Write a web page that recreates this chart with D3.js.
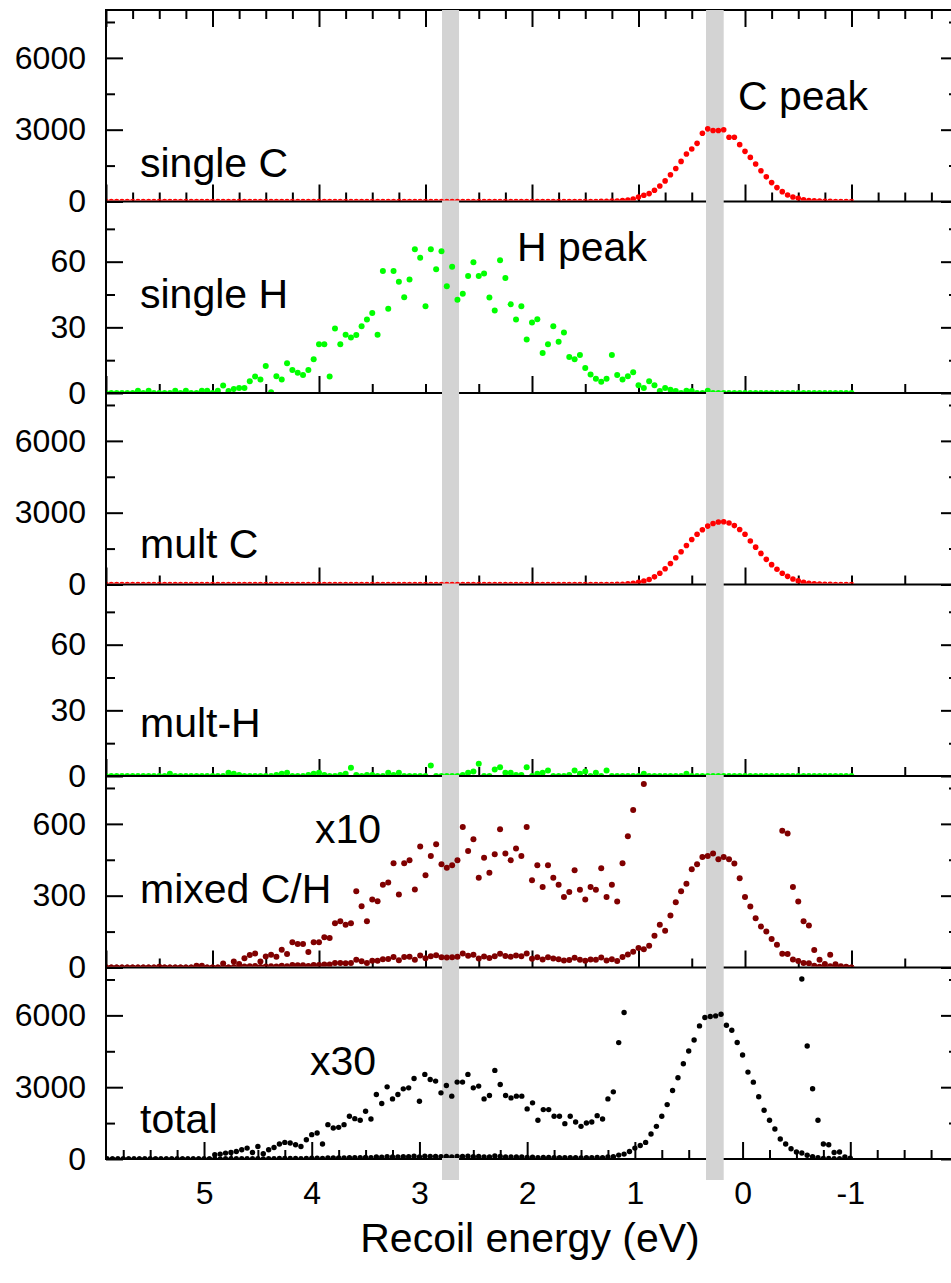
<!DOCTYPE html>
<html>
<head>
<meta charset="utf-8">
<script src="https://cdn.jsdelivr.net/npm/d3@7"></script>
<style>
  html, body { margin: 0; padding: 0; background: #fff; }
  svg { display: block; }
  text { font-family: "Liberation Sans", Arial, Helvetica, sans-serif; fill: #000; }
</style>
</head>
<body>
<svg id="chart" width="951" height="1283"></svg>
<script>
// Energy grid of the recoil spectra (eV), from 6.00 down to -1.00 in 0.05 eV steps
const energyStart = 6.0;
const energyStep = 0.05;
const energyCount = 141;

// Counts per energy bin, one row = 20 bins (6.00 ... 5.05, 5.00 ... 4.05, ...)
const singleC = [
  0,0,0,0,0,0,0,0,0,0,0,0,0,0,0,0,0,0,0,0,
  0,0,0,0,0,0,0,0,0,0,0,0,0,0,0,0,0,0,0,0,
  0,0,0,0,0,0,0,0,0,0,0,0,0,0,0,0,0,0,0,0,
  0,0,0,0,0,0,0,0,0,0,0,0,0,0,0,0,0,0,0,0,
  0,0,0,0,0,0,0,0,0,0,0,0,0,5,10,15,20,40,60,105,
  190,260,330,470,650,860,1115,1380,1675,1985,2195,2430,2852,3035,2965,2965,2995,2685,2685,2375,
  2095,1843,1565,1283,1030,790,580,412,273,190,135,76,40,25,15,10,5,0,0,0,
  0
];

const singleH = [
  0,0,0,0,0,0,1,0,1,0,0,0,0,1,0,1,0,0,1,1,
  0,1,3.4,0.9,1.8,2.3,2.3,5.4,7.5,6.2,12.3,0.3,7.7,6.2,13.6,10.5,9.2,8.2,10.5,15.4,
  22.3,22.3,7.5,29.5,22.3,26.6,25.4,26.5,30.5,33.6,36.5,26.6,55.7,38.5,55.7,50.8,43.8,51.9,65.7,61.8,
  39.6,65.7,56.6,64.8,48.8,57.7,42.6,45.4,53.5,59.7,53.5,54.6,43.6,37.7,60.7,52.6,40.5,33.6,39.6,24.5,
  32.2,33.7,18.3,22.3,30.5,23.4,27.6,16.5,15.4,17.4,11.4,8.5,6.5,5.1,6.5,17.4,8.2,6.2,7.7,9.5,
  3.5,2.3,5.4,3.5,0.9,2.3,1.5,0.9,0,1,0.9,0,0,1,0,0,0,0,0,0,
  0,0,0,0,0,0,0,0,0,0,0,0,0,0,0,0,0,0,0,0,
  0
];

const multC = [
  0,0,0,0,0,0,0,0,0,0,0,0,0,0,0,0,0,0,0,0,
  0,0,0,0,0,0,0,0,0,0,0,0,0,0,0,0,0,0,0,0,
  0,0,0,0,0,0,0,0,0,0,0,0,0,0,0,0,0,0,0,0,
  0,0,0,0,0,0,0,0,0,0,0,0,0,0,0,0,0,0,0,0,
  0,0,0,0,0,0,0,0,0,0,0,0,0,0,0,0,5,10,25,50,
  90,140,210,320,470,660,880,1120,1370,1630,1880,2100,2290,2440,2550,2610,2620,2570,2460,2300,
  2100,1820,1560,1300,1050,830,640,470,340,230,150,95,55,30,15,8,4,0,0,0,
  0
];

const multH = [
  0,0,0,0,0,0,0,0,0,0,0,0,1,0,0,0,0,0,0,0,
  0,0,0,1.5,1,0.5,0,0,0,0,0,0,0.5,1,1.5,0,0,0,0.5,1,
  1.5,0.5,0,0,0.5,1,3.8,0.5,0,0.5,0.5,0,0,1.5,0.5,1.5,0,0,0,0,
  0,4.8,0,0,0,0,0,0.5,1.5,2,5.6,0,0,3,4,1.5,1.5,0.5,0.5,4,
  0,1,1.5,2.5,0,0,0,0.5,2.5,1,2,0,1.5,0,2.5,0,0,0,0,0,
  0,1,0,0,0,0,0,0,0,1,0,0,0,0,0,0,0,0,0,0,
  0,0,0,0,0,0,0,0,0,0,0,0,0,0,0,0,0,0,0,0,
  0
];

const mixedCH = [
  0,0,0,0,0,0,0,0,0,0,0.3,0,0,0,0,0,0,0.7,0.7,0,
  0,0,1.7,0,2.5,1.5,3.9,5.2,5.9,2.5,4.6,5.3,4.5,7.4,5.6,10.5,9.8,9.8,6.5,10.5,
  10.5,12.6,12.3,18.5,19.3,17.9,18.5,31.9,25.6,19.3,28.4,27.7,34.6,35.5,43.6,30.5,43.6,44.8,32.6,50.6,
  38.5,46.6,51.5,43.1,41.7,42.7,44.8,58.7,48.7,53.6,37.5,45.9,39.6,47.3,57.8,47.6,44.8,49.7,46.6,58.7,
  36.4,42.7,33.6,42.7,37.5,34.6,29.4,31.5,40.6,32.5,28.4,33.6,32.5,41.5,29.4,34.6,27.6,43.6,54.8,65.8,
  81,76.7,91,133,179,154,217,273,319,350,410,431,462,466,476,452,462,452,434,373,
  294,255,206,171,150,119,95,57.1,56,33.6,27.6,19.3,17.5,7.3,3.2,1.5,5.3,1.4,0.5,0.3,
  0
];

const total = [
  0,0,0,0,0,0,0,0,0,0,0,0,0,0,0,0,0,0,0,0,
  0,0,5.9,6.8,8.2,9.1,10.5,12.9,15.2,9.1,17.5,7.3,12.9,16.1,20.8,23.1,22.2,19.9,17.5,26.9,
  33.9,36.2,20.8,47.8,43.2,44.1,47.8,59.5,56.2,53.9,66.5,55.8,89.8,77.2,100.5,83.7,89.8,97.7,99.1,112.2,
  80.5,117.8,110.8,108.5,92.1,102.4,87.5,107.1,107.1,117.8,99.1,101.5,83.7,88.4,123.4,103.8,88.4,85.1,87.5,87.5,
  69.8,78.2,53.9,68.8,68.8,59.5,59.5,49.2,59.5,51.6,45.5,50.2,51.6,60.4,55.8,83.7,93.5,162.1,204,315,
  455,567,693,1043,1364,1783,2273,2861,3393,3980,4512,4973,5560,5910,5955,5980,6050,5590,5380,4864,
  4343,3630,3210,2598,2035,1616,1255,835,625,428,290,250.7,157.4,97.8,53.9,20.8,19.9,9.1,9.7,3,
  1
];

// Peak positions marked by the grey bands (eV)
const peakBands = [[0.20, 0.366], [2.685, 2.845]];

// Axis ticks
const countTicksLarge = [0, 3000, 6000];
const countMinorLarge = [1500, 4500, 7500];
const countTicksH = [0, 30, 60];
const countMinorH = [15, 45, 75];
const countTicksMixed = [0, 300, 600];
const countMinorMixed = [150, 450, 750];
const energyTickLabels = [5, 4, 3, 2, 1, 0, -1];

const colorC = "#ff0000";
const colorH = "#00ff00";
const colorMixed = "#800000";
const colorTotal = "#000000";

// ---------------------------------------------------------------------------
const energy = d3.range(energyCount).map(i => +(energyStart - i * energyStep).toFixed(2));

const plotLeft = 106, plotRight = 958, plotTop = 10, panelH = 191.5;
const svg = d3.select("#chart");

const xMain = d3.scaleLinear().domain([6, -2]).range([plotLeft, plotRight]);
const xTotal = d3.scaleLinear().domain([5.91, -2]).range([plotLeft, plotRight]);

const panels = [
  { series: [{ values: singleC, color: colorC, r: 2.8 }], yMax: 8000, yMajor: countTicksLarge, yMinor: countMinorLarge,
    xMajor: 1, xMinor: 0.25, topAxis: true, x: xMain,
    notes: [{ text: "single C", x: 140, y: 177 }, { text: "C peak", x: 738, y: 110 }] },
  { series: [{ values: singleH, color: colorH, r: 3 }], yMax: 87.5, yMajor: countTicksH, yMinor: countMinorH,
    xMajor: 2, xMinor: 0.5, x: xMain,
    notes: [{ text: "single H", x: 140, y: 308 }, { text: "H peak", x: 517, y: 261 }] },
  { series: [{ values: multC, color: colorC, r: 2.8 }], yMax: 8000, yMajor: countTicksLarge, yMinor: countMinorLarge,
    xMajor: 2, xMinor: 0.5, x: xMain,
    notes: [{ text: "mult C", x: 140, y: 558 }] },
  { series: [{ values: multH, color: colorH, r: 3 }], yMax: 87.5, yMajor: countTicksH, yMinor: countMinorH,
    xMajor: 2, xMinor: 0.5, x: xMain,
    notes: [{ text: "mult-H", x: 140, y: 737 }] },
  { series: [{ values: mixedCH, color: colorMixed, r: 3 }, { values: mixedCH, factor: 10, color: colorMixed, r: 3 }],
    yMax: 800, yMajor: countTicksMixed, yMinor: countMinorMixed, xMajor: 1, xMinor: 0.5, x: xMain,
    notes: [{ text: "mixed C/H", x: 140, y: 903 }, { text: "x10", x: 315, y: 843 }] },
  { series: [{ values: total, color: colorTotal, r: 2.7 }, { values: total, factor: 30, color: colorTotal, r: 2.7 }],
    yMax: 8000, yMajor: countTicksLarge, yMinor: countMinorLarge, xMajor: 1, xMinor: 0.25, x: xTotal, labels: true,
    notes: [{ text: "total", x: 140, y: 1133 }, { text: "x30", x: 310, y: 1075 }] }
];

function stepTicks(scale, step) {
  const [a, b] = scale.domain();
  const lo = Math.min(a, b), hi = Math.max(a, b);
  const out = [];
  for (let k = Math.ceil(lo / step - 1e-9); k * step <= hi + 1e-9; k++) out.push(+(k * step).toFixed(4));
  return out;
}

function styleAxis(g) {
  g.select(".domain").remove();
  g.selectAll("line").attr("stroke", "#000").attr("stroke-width", 2);
  g.selectAll("text").attr("font-size", 32).attr("font-family", '"Liberation Sans", Arial, sans-serif').attr("fill", "#000");
  g.attr("font-family", null).attr("font-size", null);
}

const axisLayer = svg.append("g");
const bandLayer = svg.append("g");
const dataLayer = svg.append("g");
const textLayer = svg.append("g");

panels.forEach((p, i) => {
  const top = plotTop + i * panelH;
  const bottom = top + panelH;
  const x = p.x;
  const y = d3.scaleLinear().domain([0, p.yMax]).range([bottom, top]);

  const majorX = stepTicks(x, p.xMajor);
  const minorX = stepTicks(x, p.xMinor).filter(v => Math.abs(v / p.xMajor - Math.round(v / p.xMajor)) > 1e-6);
  const blank = () => "";

  // bottom axis (ticks pointing up into the panel)
  axisLayer.append("g").attr("transform", `translate(0,${bottom})`)
    .call(d3.axisBottom(x).tickValues(majorX).tickSize(-17).tickSizeOuter(0).tickPadding(22)
      .tickFormat(p.labels ? (d => energyTickLabels.includes(d) ? String(d) : "") : blank))
    .call(styleAxis);
  axisLayer.append("g").attr("transform", `translate(0,${bottom})`)
    .call(d3.axisBottom(x).tickValues(minorX).tickSize(-9).tickSizeOuter(0).tickFormat(blank))
    .call(styleAxis);

  if (p.topAxis) {
    axisLayer.append("g").attr("transform", `translate(0,${top})`)
      .call(d3.axisTop(x).tickValues(majorX).tickSize(-17).tickSizeOuter(0).tickFormat(blank))
      .call(styleAxis);
    axisLayer.append("g").attr("transform", `translate(0,${top})`)
      .call(d3.axisTop(x).tickValues(minorX).tickSize(-9).tickSizeOuter(0).tickFormat(blank))
      .call(styleAxis);
  }

  // left and right count axes (ticks pointing inwards)
  axisLayer.append("g").attr("transform", `translate(${plotLeft},0)`)
    .call(d3.axisLeft(y).tickValues(p.yMajor).tickSize(-17).tickSizeOuter(0).tickPadding(20).tickFormat(d => String(d)))
    .call(styleAxis);
  axisLayer.append("g").attr("transform", `translate(${plotLeft},0)`)
    .call(d3.axisLeft(y).tickValues(p.yMinor).tickSize(-9).tickSizeOuter(0).tickFormat(blank))
    .call(styleAxis);
  axisLayer.append("g").attr("transform", `translate(${plotRight},0)`)
    .call(d3.axisRight(y).tickValues(p.yMajor).tickSize(-17).tickSizeOuter(0).tickFormat(blank))
    .call(styleAxis);
  axisLayer.append("g").attr("transform", `translate(${plotRight},0)`)
    .call(d3.axisRight(y).tickValues(p.yMinor).tickSize(-9).tickSizeOuter(0).tickFormat(blank))
    .call(styleAxis);

  // frame lines
  const frame = [[plotLeft, bottom, plotRight, bottom], [plotLeft, top, plotLeft, bottom], [plotRight, top, plotRight, bottom]];
  if (p.topAxis) frame.push([plotLeft, top, plotRight, top]);
  axisLayer.selectAll(null).data(frame).join("line")
    .attr("x1", d => d[0]).attr("y1", d => d[1]).attr("x2", d => d[2]).attr("y2", d => d[3])
    .attr("stroke", "#000").attr("stroke-width", 2).attr("stroke-linecap", "square");

  // data points, clipped to the panel
  const clipId = `clip-${i}`;
  svg.append("clipPath").attr("id", clipId).append("rect")
    .attr("x", plotLeft + 1).attr("y", top + 1).attr("width", plotRight - plotLeft - 2).attr("height", panelH - 2);
  const g = dataLayer.append("g").attr("clip-path", `url(#${clipId})`);
  p.series.forEach(s => {
    const f = s.factor || 1;
    const pts = s.values.map((v, k) => ({ e: energy[k], v: v * f })).filter(d => d.v <= p.yMax);
    g.selectAll(null).data(pts).join("circle")
      .attr("cx", d => x(d.e)).attr("cy", d => y(d.v)).attr("r", s.r).attr("fill", s.color);
  });

  p.notes.forEach(n => {
    textLayer.append("text").attr("x", n.x).attr("y", n.y).attr("font-size", 41).text(n.text);
  });
});

// grey bands marking the C and H peak positions
bandLayer.selectAll("rect").data(peakBands).join("rect")
  .attr("x", d => xMain(d[1])).attr("width", d => xMain(d[0]) - xMain(d[1]))
  .attr("y", plotTop).attr("height", 1180 - plotTop)
  .attr("fill", "#d3d3d3");

// x-axis title
textLayer.append("text").attr("x", 530).attr("y", 1252).attr("text-anchor", "middle")
  .attr("font-size", 41).text("Recoil energy (eV)");
</script>
</body>
</html>
